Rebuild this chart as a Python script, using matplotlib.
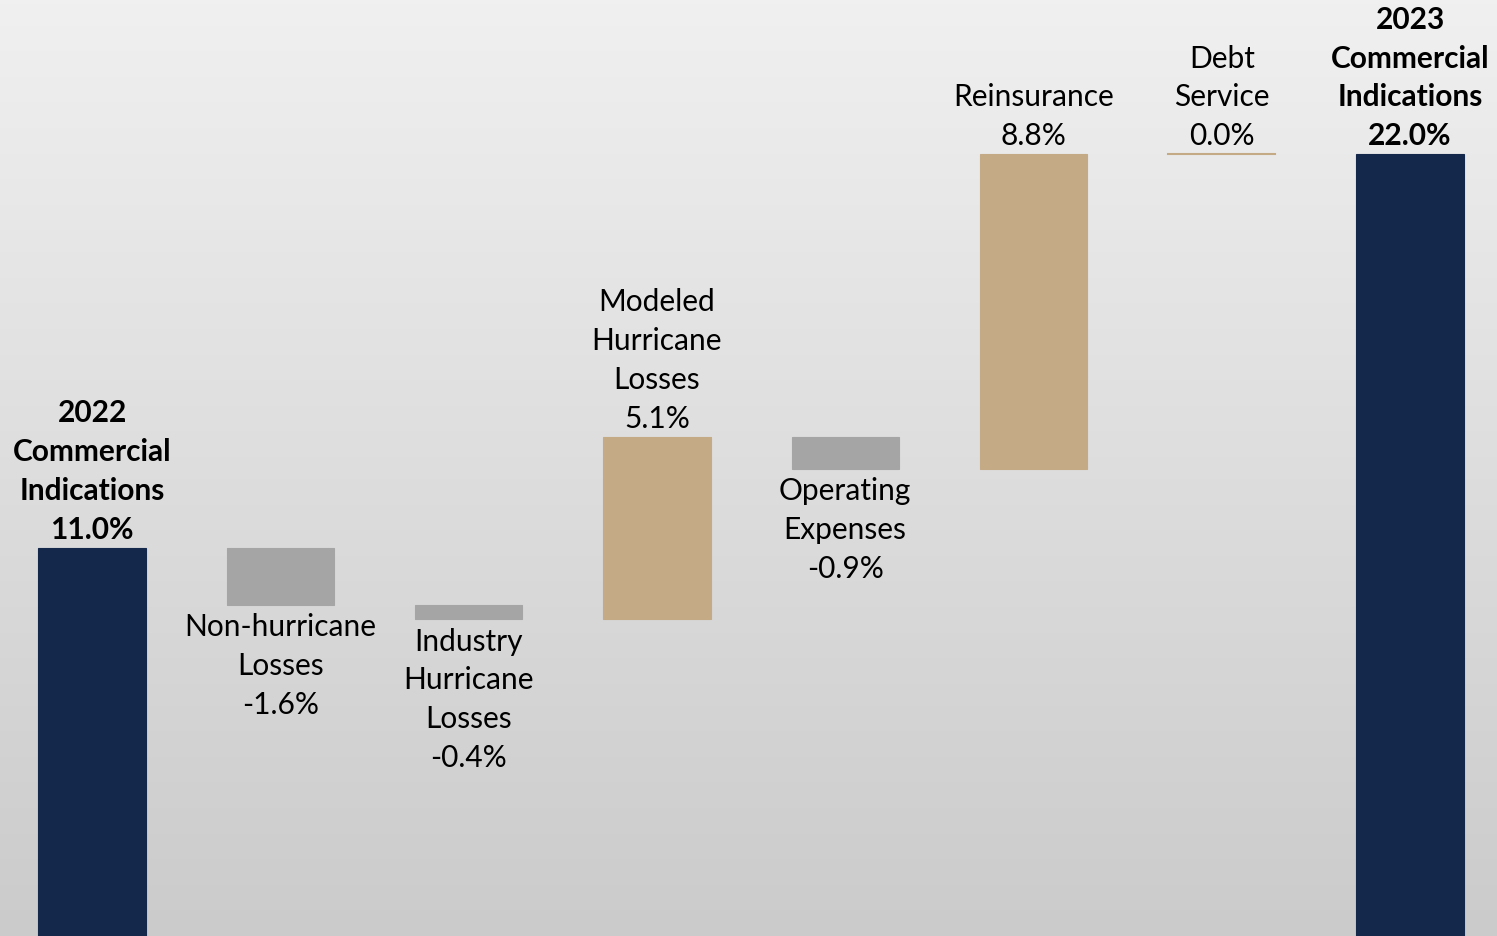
# WATERFALL: 2022 -> 2023 COMMERCIAL INDICATIONS

import numpy as np
import matplotlib.pyplot as plt

categories = ["2022\nCommercial\nIndications", "Non-hurricane\nLosses", "Industry\nHurricane\nLosses",
              "Modeled\nHurricane\nLosses", "Operating\nExpenses", "Reinsurance",
              "Debt\nService", "2023\nCommercial\nIndications"]
values = [11.0, -1.6, -0.4, 5.1, -0.9, 8.8, 0.0, 22.0]
is_total = [True, False, False, False, False, False, False, True]

NAVY = "#14284B"
GRAY = "#A5A5A5"
TAN = "#C4AA85"


def plot_waterfall():
    fig = plt.figure(figsize=(14.97, 9.36), dpi=100)
    ax = fig.add_axes([0, 0, 1, 1])

    # gradient background
    grad = np.linspace(0, 1, 256).reshape(-1, 1)
    ax.imshow(grad, extent=[0, 1, 0, 1], transform=ax.transAxes, aspect="auto",
              cmap=plt.matplotlib.colors.LinearSegmentedColormap.from_list("bg", ["#CBCBCB", "#F0F0F0"]),
              origin="lower", zorder=0)

    width = 0.57
    running = 0.0
    for i, (cat, v, tot) in enumerate(zip(categories, values, is_total)):
        if tot:
            bottom, top = 0.0, v
            color = NAVY
            running = v
        else:
            bottom, top = running, running + v
            color = TAN if v > 0 else GRAY
            running = top
        label = f"{cat}\n{v:.1f}%"
        weight = "bold" if tot else "normal"
        if v == 0 and not tot:
            ax.plot([i - width / 2, i + width / 2], [top, top], color=TAN, lw=1.5, zorder=2)
        else:
            lo, hi = min(bottom, top), max(bottom, top)
            ax.bar(i, hi - lo, bottom=lo, width=width, color=color,
                   edgecolor=color, linewidth=0.8, zorder=2)
        if v >= 0:
            ax.annotate(label, (i, max(bottom, top)), xytext=(0, 3), textcoords="offset points",
                        ha="center", va="bottom", fontsize=21.5, fontweight=weight,
                        family="Lato", linespacing=1.47, zorder=3)
        else:
            ax.annotate(label, (i, min(bottom, top)), xytext=(0, -6), textcoords="offset points",
                        ha="center", va="top", fontsize=21.5, fontweight=weight,
                        family="Lato", linespacing=1.47, zorder=3)

    ax.set_xlim(-0.489, 7.462)
    ax.set_ylim(0.14, 26.32)
    ax.axis("off")
    fig.savefig("out.png", dpi=100)


def main():
    plot_waterfall()


if __name__ == "__main__":
    main()
